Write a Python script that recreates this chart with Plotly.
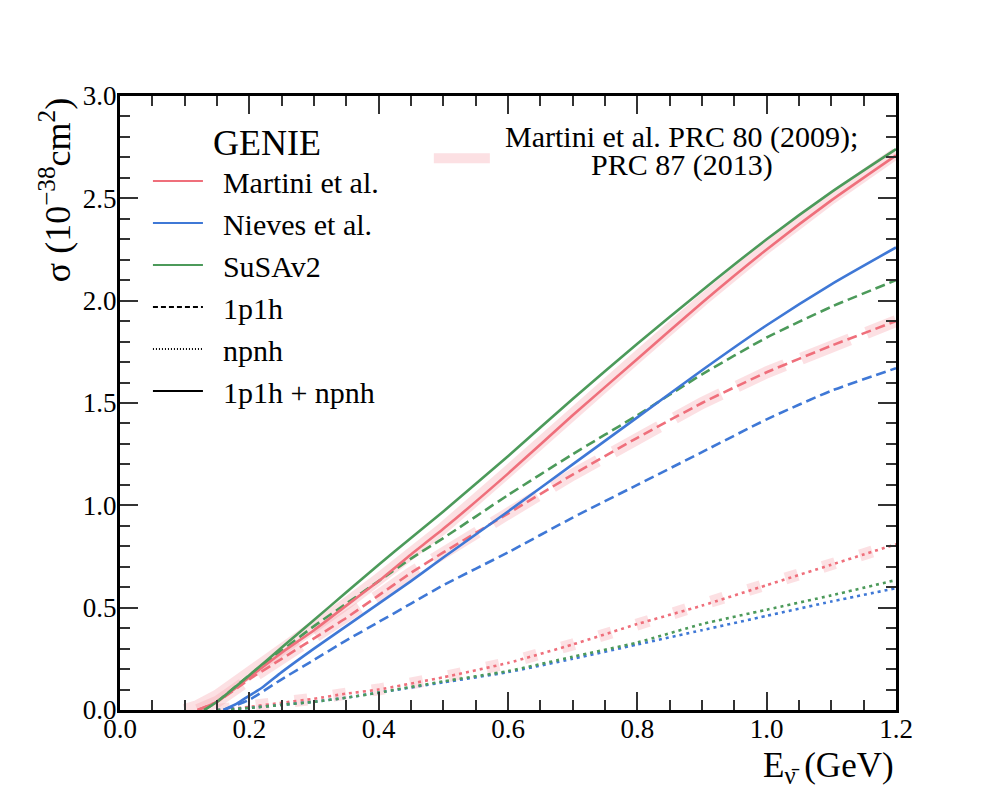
import plotly.graph_objects as go

# GENIE 1p1h + npnh (total)
e_mar_tot = [0.12, 0.15, 0.2, 0.25, 0.3, 0.35, 0.4, 0.45, 0.5, 0.6, 0.7, 0.8, 0.9, 1.0, 1.1, 1.2]
s_mar_tot = [0.0, 0.04, 0.16, 0.28, 0.39, 0.51, 0.63, 0.76, 0.885, 1.155, 1.44, 1.715, 1.99, 2.25, 2.49, 2.71]
e_nie_tot = [0.16, 0.18, 0.2, 0.22, 0.25, 0.3, 0.35, 0.4, 0.45, 0.5, 0.6, 0.7, 0.8, 0.9, 1.0, 1.1, 1.2]
s_nie_tot = [0.0, 0.03, 0.07, 0.11, 0.185, 0.30, 0.41, 0.52, 0.63, 0.745, 0.97, 1.20, 1.43, 1.66, 1.88, 2.08, 2.26]
e_sus_tot = [0.13, 0.15, 0.2, 0.25, 0.3, 0.35, 0.4, 0.45, 0.5, 0.6, 0.7, 0.8, 0.9, 1.0, 1.1, 1.2]
s_sus_tot = [0.0, 0.04, 0.17, 0.305, 0.44, 0.575, 0.71, 0.84, 0.97, 1.24, 1.52, 1.79, 2.05, 2.30, 2.53, 2.74]

# GENIE 1p1h
e_mar_1p1h = [0.12, 0.15, 0.2, 0.25, 0.3, 0.35, 0.4, 0.45, 0.5, 0.6, 0.7, 0.8, 0.9, 1.0, 1.1, 1.2]
s_mar_1p1h = [0.0, 0.04, 0.15, 0.25, 0.35, 0.45, 0.56, 0.67, 0.77, 0.96, 1.15, 1.33, 1.50, 1.65, 1.78, 1.90]
e_nie_1p1h = [0.16, 0.2, 0.25, 0.3, 0.35, 0.4, 0.45, 0.5, 0.6, 0.7, 0.8, 0.9, 1.0, 1.1, 1.2]
s_nie_1p1h = [0.0, 0.05, 0.15, 0.245, 0.34, 0.43, 0.52, 0.61, 0.77, 0.94, 1.10, 1.26, 1.42, 1.56, 1.67]
e_sus_1p1h = [0.13, 0.15, 0.2, 0.25, 0.3, 0.35, 0.4, 0.45, 0.5, 0.6, 0.7, 0.8, 0.9, 1.0, 1.1, 1.2]
s_sus_1p1h = [0.0, 0.04, 0.17, 0.29, 0.41, 0.52, 0.63, 0.74, 0.84, 1.05, 1.25, 1.44, 1.64, 1.82, 1.97, 2.10]

# GENIE npnh
e_npnh = [0.15, 0.2, 0.25, 0.3, 0.35, 0.4, 0.5, 0.6, 0.7, 0.8, 0.9, 1.0, 1.1, 1.2]
s_mar_npnh = [0.0, 0.015, 0.035, 0.055, 0.08, 0.10, 0.16, 0.23, 0.32, 0.42, 0.51, 0.61, 0.71, 0.81]
s_nie_npnh = [0.0, 0.01, 0.025, 0.04, 0.06, 0.085, 0.135, 0.185, 0.25, 0.32, 0.39, 0.46, 0.53, 0.595]
s_sus_npnh = [0.0, 0.01, 0.025, 0.04, 0.06, 0.085, 0.14, 0.19, 0.26, 0.33, 0.42, 0.49, 0.56, 0.635]

# Martini et al. original calculation (PRC 80 / PRC 87)
e_ref_tot = [0.10, 0.12, 0.15, 0.2, 0.25, 0.3, 0.35, 0.4, 0.5, 0.6, 0.7, 0.8, 0.9, 1.0, 1.1, 1.2]
s_ref_tot = [0.0, 0.02, 0.07, 0.18, 0.29, 0.40, 0.52, 0.64, 0.89, 1.165, 1.45, 1.725, 2.00, 2.26, 2.50, 2.72]
e_ref_1p1h = e_mar_1p1h
s_ref_1p1h = s_mar_1p1h
e_ref_npnh = e_npnh
s_ref_npnh = s_mar_npnh

RED = "#ef6f7b"
BLUE = "#3f78d6"
GREEN = "#4c9a5a"
BAND = "rgba(245,160,170,0.33)"
FONT = "Liberation Serif, Times New Roman, serif"
NB = "\u00a0"

fig = go.Figure()

# reference bands first, underneath
for e, s, dash in [(e_ref_tot, s_ref_tot, "solid"), (e_ref_1p1h, s_ref_1p1h, "52px,18px"), (e_ref_npnh, s_ref_npnh, "13px,26px")]:
    fig.add_trace(go.Scatter(x=e, y=s, mode="lines", line=dict(color=BAND, width=12, dash=dash), showlegend=False, hoverinfo="skip"))

curves = [
    (e_npnh, s_mar_npnh, RED, "3px,4px"),
    (e_npnh, s_nie_npnh, BLUE, "3px,4px"),
    (e_npnh, s_sus_npnh, GREEN, "3px,4px"),
    (e_mar_1p1h, s_mar_1p1h, RED, "10px,5px"),
    (e_nie_1p1h, s_nie_1p1h, BLUE, "10px,5px"),
    (e_sus_1p1h, s_sus_1p1h, GREEN, "10px,5px"),
    (e_mar_tot, s_mar_tot, RED, "solid"),
    (e_nie_tot, s_nie_tot, BLUE, "solid"),
    (e_sus_tot, s_sus_tot, GREEN, "solid"),
]
for e, s, color, dash in curves:
    fig.add_trace(go.Scatter(x=e, y=s, mode="lines", line=dict(color=color, width=2.6, dash=dash, shape="spline", smoothing=0.5), showlegend=False, hoverinfo="skip"))

# legend entries (GENIE box)
entries = [
    ("Martini et al.", RED, "solid"),
    ("Nieves et al.", BLUE, "solid"),
    ("SuSAv2", GREEN, "solid"),
    ("1p1h", "black", "5px,3px"),
    ("npnh", "black", "1px,2px"),
    ("1p1h + npnh", "black", "solid"),
]
for name, color, dash in entries:
    fig.add_trace(go.Scatter(x=[None], y=[None], mode="lines", name=NB * 2 + name, line=dict(color=color, width=2, dash=dash), legend="legend"))

# Martini reference key: band sample in legend2, its two text lines as annotations (tighter line spacing)
fig.add_trace(go.Scatter(x=[None], y=[None], mode="lines", name=NB, line=dict(color=BAND, width=10), legend="legend2"))
for text, ypos in [("Martini et al. PRC 80 (2009);", 0.933), ("PRC 87 (2013)", 0.887)]:
    fig.add_annotation(text=text, xref="paper", yref="paper", x=0.724, y=ypos, xanchor="center", yanchor="middle",
                       showarrow=False, font=dict(family=FONT, size=30, color="black"))

axis_common = dict(
    showline=True, linewidth=3, linecolor="black", mirror="ticks",
    ticks="inside", ticklen=18, tickwidth=1.5, tickcolor="#333333",
    showgrid=False, zeroline=False,
    tickfont=dict(family=FONT, size=27, color="black"),
    tickformat=".1f",
)

fig.update_xaxes(range=[0, 1.2], dtick=0.2, tick0=0, ticklabelstandoff=-7,
                 minor=dict(ticks="inside", ticklen=10, dtick=0.05, tickcolor="#333333", tickwidth=1.5, showgrid=False),
                 **axis_common)
fig.update_yaxes(range=[0, 3.0], dtick=0.5, tick0=0, ticklabelstandoff=-5,
                 minor=dict(ticks="inside", ticklen=10, dtick=0.1, tickcolor="#333333", tickwidth=1.5, showgrid=False),
                 **axis_common)

fig.add_annotation(text="E<sub>\u03bd\u0304</sub> (GeV)", xref="paper", yref="paper", x=1.0, y=0, xanchor="right", yanchor="top",
                   yshift=-34, showarrow=False, font=dict(family=FONT, size=35, color="black"))
fig.add_annotation(text="\u03c3 (10<sup>\u221238</sup>cm<sup>2</sup>)", xref="paper", yref="paper", x=-0.115, y=1.0, xanchor="left", yanchor="top",
                   textangle=-90, showarrow=False, font=dict(family=FONT, size=36, color="black"))

fig.update_layout(
    width=996, height=797,
    margin=dict(l=112, r=108, t=88, b=95, autoexpand=False),
    plot_bgcolor="white", paper_bgcolor="white",
    font=dict(family=FONT, color="black"),
    legend=dict(
        title=dict(text=NB * 7 + "GENIE", font=dict(family=FONT, size=36)),
        x=0.036, y=0.98, xanchor="left", yanchor="top",
        font=dict(family=FONT, size=30), itemwidth=50, tracegroupgap=0,
        bgcolor="rgba(0,0,0,0)",
    ),
    legend2=dict(
        x=0.398, y=0.941, xanchor="left", yanchor="top",
        font=dict(family=FONT, size=30), itemwidth=56, bgcolor="rgba(0,0,0,0)",
    ),
)

fig.write_html("out.html")
